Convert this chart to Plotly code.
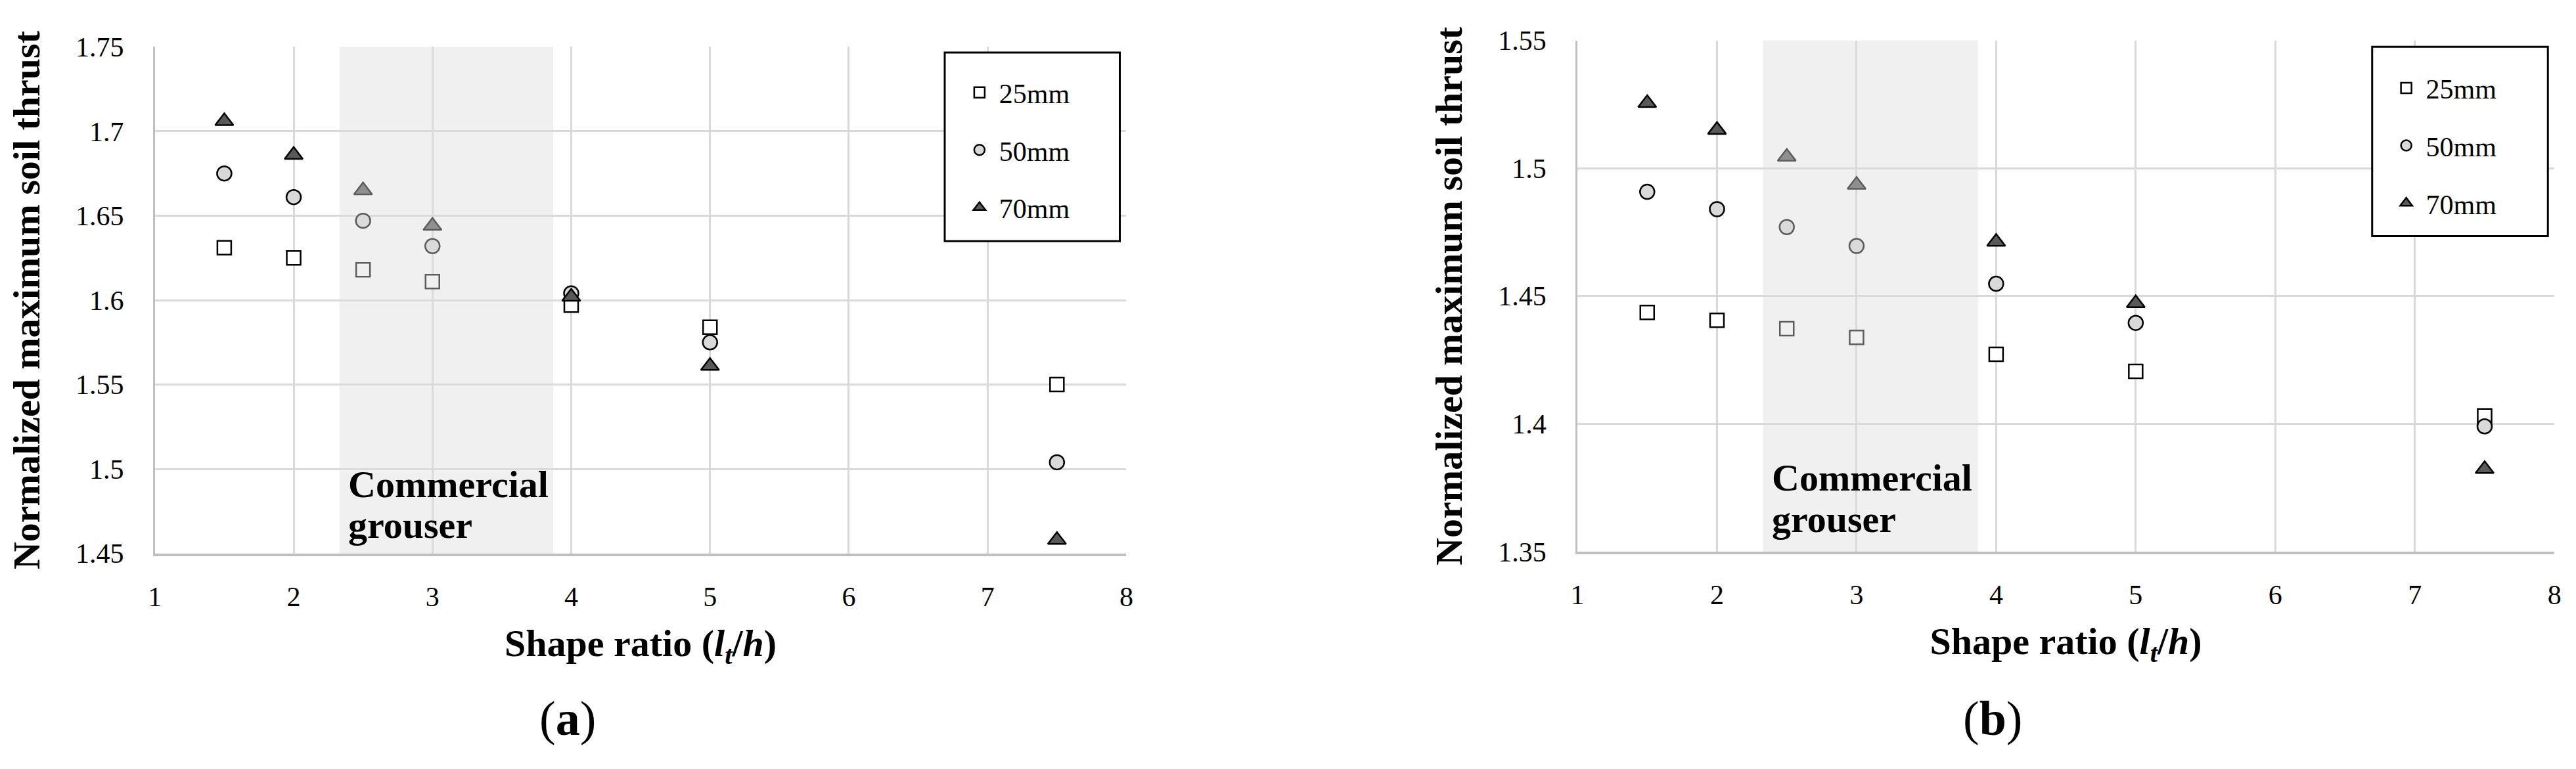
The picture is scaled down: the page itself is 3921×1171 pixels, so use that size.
import plotly.graph_objects as go

# ---------------- data ----------------
shape_ratio = [1.5, 2, 2.5, 3, 4, 5, 7.5]
series_names = ["25mm", "50mm", "70mm"]

# panel (a)
a_25mm = [1.631, 1.625, 1.618, 1.611, 1.597, 1.584, 1.550]
a_50mm = [1.675, 1.661, 1.647, 1.632, 1.604, 1.575, 1.504]
a_70mm = [1.706, 1.686, 1.665, 1.644, 1.602, 1.561, 1.458]

# panel (b)
b_25mm = [1.4436, 1.4405, 1.4372, 1.4338, 1.4272, 1.4205, 1.4031]
b_50mm = [1.4908, 1.4840, 1.4770, 1.4696, 1.4548, 1.4395, 1.3990]
b_70mm = [1.5255, 1.5150, 1.5045, 1.4935, 1.4712, 1.4472, 1.3823]

x_ticks = [1, 2, 3, 4, 5, 6, 7, 8]
ya_ticks = [1.45, 1.5, 1.55, 1.6, 1.65, 1.7, 1.75]
ya_labels = ["1.45", "1.5", "1.55", "1.6", "1.65", "1.7", "1.75"]
yb_ticks = [1.35, 1.4, 1.45, 1.5, 1.55]
yb_labels = ["1.35", "1.4", "1.45", "1.5", "1.55"]

commercial_range = [2.33, 3.87]

# ---------------- style ----------------
FONT = "Liberation Serif"
W, H = 3921, 1171
styles = {
    "25mm": dict(symbol="square", size=21, color="white"),
    "50mm": dict(symbol="circle", size=22, color="#d9d9d9"),
    "70mm": dict(symbol="triangle-up", size=24, color="#595959"),
}

fig = go.Figure()

panels = [
    ("x", "y", "legend", "a", [a_25mm, a_50mm, a_70mm]),
    ("x2", "y2", "legend2", "b", [b_25mm, b_50mm, b_70mm]),
]
for xa, ya, leg, tag, vals in panels:
    for name, yv in zip(series_names, vals):
        st = styles[name]
        fig.add_trace(go.Scatter(
            x=shape_ratio, y=yv, mode="markers", name=name,
            xaxis=xa, yaxis=ya, legend=leg, legendgroup=tag + name,
            marker=dict(symbol=st["symbol"], size=st["size"], color=st["color"],
                        line=dict(color="black", width=2.5)),
        ))

def px_x(p):
    return p / W

def px_y(p):
    return 1 - p / H

TITLE_SIZE = 58
axis_common = dict(
    showgrid=True, gridcolor="#d9d9d9", gridwidth=3,
    zeroline=False, ticks="",
    tickfont=dict(family=FONT, size=42, color="black"),
    title_font=dict(family=FONT, size=TITLE_SIZE, color="black", weight="bold"),
)

xtitle = "Shape ratio (<i>l</i><sub><i>t</i></sub>/<i>h</i>)"
ytitle = "Normalized maximum soil thrust"

legend_common = dict(xanchor="left", yanchor="top", bgcolor="rgba(0,0,0,0)",
                     borderwidth=0, tracegroupgap=30, itemwidth=50,
                     font=dict(family=FONT, size=42, color="black"))

fig.update_layout(
    width=W, height=H,
    margin=dict(l=0, r=0, t=0, b=0),
    paper_bgcolor="white", plot_bgcolor="white",
    font=dict(family=FONT, color="black"),
    xaxis=dict(domain=[px_x(218), px_x(1705)], range=[1, 8], tickvals=x_ticks,
               anchor="y", showline=True, linecolor="#bfbfbf", linewidth=4,
               ticklabelstandoff=26, title=dict(text=xtitle, standoff=28), **axis_common),
    yaxis=dict(domain=[px_y(846), px_y(43)], range=[1.45, 1.75], tickvals=ya_ticks,
               ticktext=ya_labels, anchor="x", showline=True, linecolor="#bfbfbf",
               linewidth=3, ticklabelstandoff=36, title=dict(text=ytitle, standoff=36),
               **axis_common),
    xaxis2=dict(domain=[px_x(2395.5), px_x(3891)], range=[1, 8], tickvals=x_ticks,
                anchor="y2", showline=True, linecolor="#bfbfbf", linewidth=4,
                ticklabelstandoff=26, title=dict(text=xtitle, standoff=28), **axis_common),
    yaxis2=dict(domain=[px_y(843), px_y(33)], range=[1.35, 1.55], tickvals=yb_ticks,
                ticktext=yb_labels, anchor="x2", showline=True, linecolor="#bfbfbf",
                linewidth=3, ticklabelstandoff=36, title=dict(text=ytitle, standoff=36),
                **axis_common),
    legend=dict(x=px_x(1450), y=px_y(80), **legend_common),
    legend2=dict(x=px_x(3634), y=px_y(73), **legend_common),
)

# commercial grouser shading (above markers, semi-transparent)
for xr, yr in [("x", "y"), ("x2", "y2")]:
    fig.add_shape(type="rect", xref=xr, yref=yr + " domain",
                  x0=commercial_range[0], x1=commercial_range[1], y0=0, y1=1,
                  fillcolor="rgba(220,220,220,0.42)", line=dict(width=0), layer="above")

# legend boxes
for x0, x1, y0, y1 in [(1427, 1695, 351, 52), (3612, 3881, 343, 43)]:
    fig.add_shape(type="rect", xref="paper", yref="paper",
                  x0=px_x(x0), x1=px_x(x1), y0=px_y(y0), y1=px_y(y1),
                  fillcolor="white", line=dict(color="black", width=3), layer="above")

# Commercial grouser labels
for xr, yr, y1, y2 in [("x", "y", 1.491, 1.467), ("x2", "y2", 1.379, 1.3626)]:
    fig.add_annotation(x=2.385, y=y1, xref=xr, yref=yr, text="<b>Commercial</b>",
                       showarrow=False, xanchor="left", yanchor="middle",
                       font=dict(family=FONT, size=TITLE_SIZE, color="black"))
    fig.add_annotation(x=2.385, y=y2, xref=xr, yref=yr, text="<b>grouser</b>",
                       showarrow=False, xanchor="left", yanchor="middle",
                       font=dict(family=FONT, size=TITLE_SIZE, color="black"))

# panel labels
for xpx, lab in [(850, "a"), (3031, "b")]:
    fig.add_annotation(x=px_x(xpx), y=px_y(1107), xref="paper", yref="paper",
                       text="(<b>%s</b>)" % lab, showarrow=False,
                       xanchor="center", yanchor="middle",
                       font=dict(family=FONT, size=74, color="black"))

fig.write_html("out.html")
